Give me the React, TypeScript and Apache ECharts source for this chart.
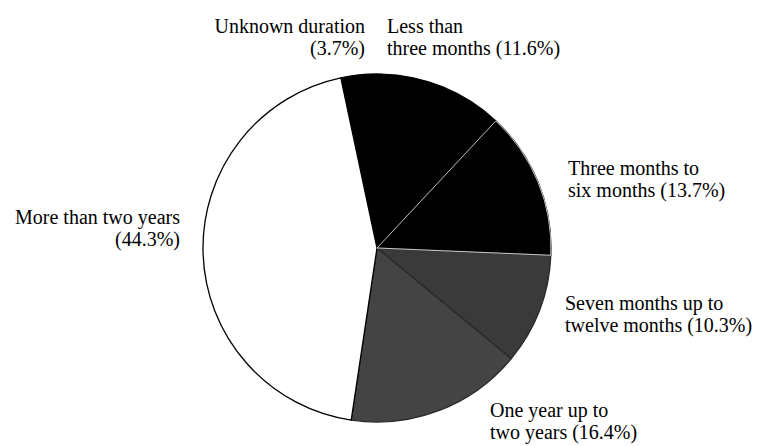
import React, { useEffect, useRef } from "react";
import * as echarts from "echarts";

const categories = [
  "Unknown duration",
  "Less than\nthree months",
  "Three months to\nsix months",
  "Seven months up to\ntwelve months",
  "One year up to\ntwo years",
  "More than two years",
];
const values = [3.7, 11.6, 13.7, 10.3, 16.4, 44.3];
const sliceColors = ["#000000", "#000000", "#000000", "#3a3a3a", "#444444", "#ffffff"];
const sliceBorders = ["#000000", "#000000", "#000000", "#2a2a2a", "#2a2a2a", "#000000"];

// label anchor layout (x, top y, alignment)
const labelPos: [number, number, "left" | "right"][] = [
  [365, 15, "right"],
  [387, 15, "left"],
  [568, 157, "left"],
  [565, 292, "left"],
  [490, 399, "left"],
  [180, 206, "right"],
];

export default function App() {
  const ref = useRef<HTMLDivElement>(null);
  useEffect(() => {
    if (!ref.current) return;
    const chart = echarts.init(ref.current, null, { renderer: "svg" });
    const data = categories.map((name, i) => ({
      name,
      value: values[i],
      itemStyle: { color: sliceColors[i], borderColor: sliceBorders[i] },
    }));
    chart.setOption({
      animation: false,
      backgroundColor: "#ffffff",
      series: [
        {
          type: "pie",
          center: [377, 248],
          radius: 174,
          startAngle: 102,
          clockwise: true,
          silent: true,
          itemStyle: { borderWidth: 1.3 },
          label: {
            show: true,
            position: "outside",
            fontFamily: "Liberation Serif",
            fontSize: 20,
            lineHeight: 22,
            color: "#000",
            overflow: "none",
            formatter: (p: any) =>
              p.name.includes("\n") ? `${p.name} (${p.value}%)` : `${p.name}\n(${p.value}%)`,
          },
          labelLine: { show: false },
          labelLayout: (p: any) => {
            const [x, y, align] = labelPos[p.dataIndex];
            return { x, y, align, verticalAlign: "top" };
          },
          data,
        },
        {
          type: "pie",
          center: [377, 248],
          radius: 174,
          startAngle: 102,
          clockwise: true,
          silent: true,
          label: { show: false },
          labelLine: { show: false },
          data: categories.map((name, i) => ({
            name,
            value: values[i],
            itemStyle: {
              color: "transparent",
              borderColor: i === 2 ? "rgba(255,255,255,0.75)" : "transparent",
              borderWidth: 1,
            },
          })),
        },
      ],
    });
    return () => chart.dispose();
  }, []);
  return (
    <div
      ref={ref}
      style={{ position: "fixed", left: 0, top: 0, width: 757, height: 446 }}
    />
  );
}
